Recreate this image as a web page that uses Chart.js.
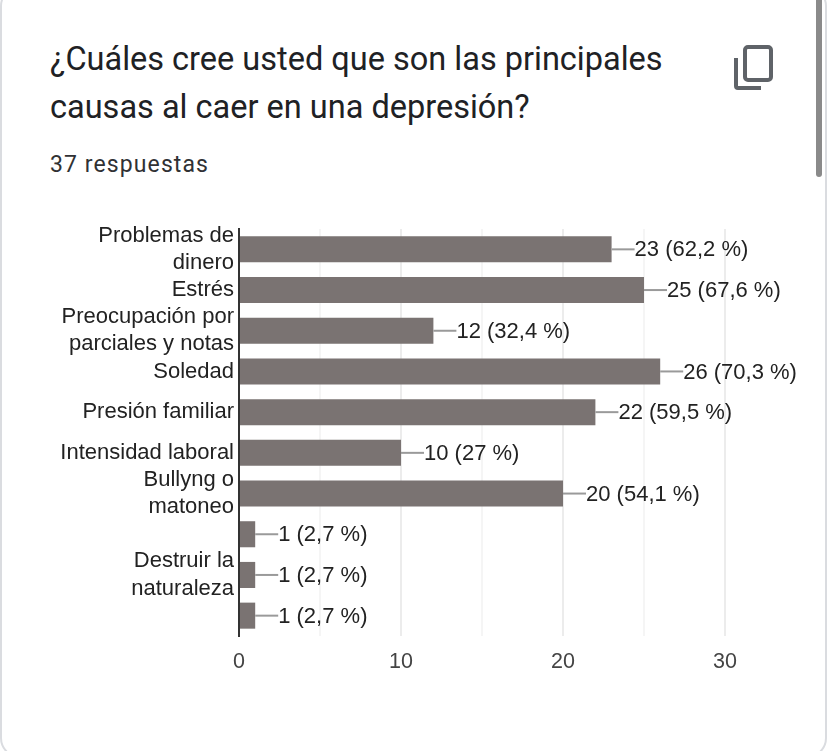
<!DOCTYPE html>
<html>
<head>
<meta charset="utf-8">
<script src="https://cdn.jsdelivr.net/npm/chart.js@4"></script>
<style>
  html, body { margin: 0; padding: 0; background: #fff; }
  body { width: 828px; height: 751px; position: relative; overflow: hidden; }
  #card { position: absolute; left: 0; top: -14px; width: 827px; height: 772px; box-sizing: border-box;
    border: 2px solid #dadce0; border-radius: 20px; }
  #bar { position: absolute; left: 816px; top: 0; width: 6px; height: 177px; background: #8a8a8a; border-radius: 0 0 3px 3px; }
  #title { position: absolute; left: 50px; top: 35px; width: 670px; font: 400 32.5px/48px Roboto, sans-serif; color: #202124; }
  #sub { position: absolute; left: 50px; top: 151px; font: 400 23px/28px Roboto, sans-serif; letter-spacing: 1.1px; color: #303134; }
  #icon { position: absolute; left: 730px; top: 42px; }
  #chart { position: absolute; left: 0; top: 201px; }
</style>
</head>
<body>
<div id="card"></div>
<div id="bar"></div>
<div id="title">¿Cuáles cree usted que son las principales causas al caer en una depresión?</div>
<div id="sub">37 respuestas</div>
<svg id="icon" width="46" height="50" viewBox="0 0 46 50">
  <rect x="15" y="5" width="26" height="33" rx="3" fill="none" stroke="#5f6368" stroke-width="4"/>
  <path d="M6 16 V44 a2 2 0 0 0 2 2 H31" fill="none" stroke="#5f6368" stroke-width="4"/>
</svg>
<canvas id="chart" width="828" height="500"></canvas>
<script>
var categories = [
  ['Problemas de', 'dinero'],
  'Estrés',
  ['Preocupación por', 'parciales y notas'],
  'Soledad',
  'Presión familiar',
  'Intensidad laboral',
  ['Bullyng o', 'matoneo'],
  '',
  ['Destruir la', 'naturaleza'],
  ''
];
var values = [23, 25, 12, 26, 22, 10, 20, 1, 1, 1];
var percents = ['62,2', '67,6', '32,4', '70,3', '59,5', '27', '54,1', '2,7', '2,7', '2,7'];

// leader line + "n (p %)" next to every bar
var barLabels = {
  id: 'barLabels',
  afterDatasetsDraw: function (chart) {
    var ctx = chart.ctx;
    ctx.save();
    ctx.font = '22px "Liberation Sans", Arial, sans-serif';
    ctx.textBaseline = 'middle';
    ctx.textAlign = 'left';
    chart.getDatasetMeta(0).data.forEach(function (bar, i) {
      ctx.strokeStyle = '#9a9a9a';
      ctx.lineWidth = 2;
      ctx.beginPath();
      ctx.moveTo(bar.x, bar.y);
      ctx.lineTo(bar.x + 23, bar.y);
      ctx.stroke();
      ctx.fillStyle = '#222222';
      ctx.fillText(values[i] + ' (' + percents[i] + ' %)', bar.x + 23, bar.y + 1);
    });
    ctx.restore();
  }
};

new Chart(document.getElementById('chart'), {
  type: 'bar',
  data: {
    labels: categories,
    datasets: [{
      data: values,
      backgroundColor: '#7a7372',
      barPercentage: 0.8,
      categoryPercentage: 0.8
    }]
  },
  plugins: [barLabels],
  options: {
    indexAxis: 'y',
    responsive: false,
    animation: false,
    layout: { padding: { top: 28, right: 103 } },
    plugins: { legend: { display: false }, tooltip: { enabled: false } },
    scales: {
      x: {
        min: 0,
        max: 30,
        ticks: {
          stepSize: 5,
          padding: 13,
          maxRotation: 0,
          autoSkip: false,
          color: '#444444',
          font: { family: '"Liberation Sans", Arial, sans-serif', size: 21.5 },
          callback: function (v) { return v % 10 === 0 ? v : ''; }
        },
        grid: {
          drawTicks: false,
          lineWidth: 2,
          color: function (c) { return c.tick.value % 10 === 0 ? '#ececec' : '#f5f5f5'; }
        },
        border: { display: false },
        afterFit: function (axis) { axis.height = 65; }
      },
      y: {
        ticks: {
          padding: 5,
          autoSkip: false,
          color: '#222222',
          font: { family: '"Liberation Sans", Arial, sans-serif', size: 22, lineHeight: 1.24 }
        },
        grid: { display: false, drawTicks: false },
        border: { color: '#333333', width: 2 },
        afterFit: function (axis) { axis.width = 239; }
      }
    }
  }
});
</script>
</body>
</html>
